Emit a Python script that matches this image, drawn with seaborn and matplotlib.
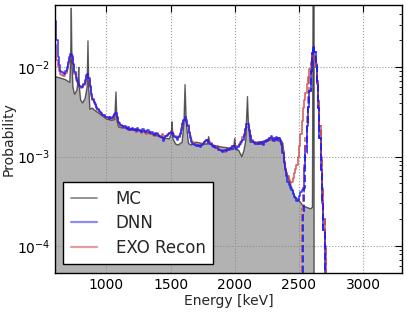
import numpy as np
import pandas as pd
import matplotlib
matplotlib.use("Agg")
import matplotlib.pyplot as plt
import seaborn as sns
from matplotlib.lines import Line2D

sns.set_style("white")
plt.rcParams['font.family'] = ['DejaVu Sans']
plt.rcParams['mathtext.default'] = 'regular'

# ---------------- data ----------------
# MC spectrum (polyline), energy in keV, probability in units of 1e-3
mc_energy = [600, 640, 680, 700, 715, 722, 727, 732, 740, 752, 770, 780, 785, 790,
             800, 815, 835, 850, 857, 863, 872, 890, 910, 950, 1000, 1040, 1065,
             1075, 1082, 1095, 1120, 1160, 1200, 1260, 1300, 1350, 1400, 1450, 1490,
             1506, 1512, 1518, 1540, 1560, 1590, 1605, 1613, 1622, 1640, 1660, 1700,
             1750, 1785, 1797, 1808, 1850, 1900, 1950, 1990, 2000, 2008, 2030, 2055,
             2070, 2085, 2093, 2099, 2106, 2120, 2150, 2200, 2250, 2300, 2350, 2375,
             2390, 2430, 2467, 2493, 2510, 2532, 2560, 2590, 2605, 2610, 2618, 2620]
mc_prob_e3 = [7.9, 7.6, 7.3, 7.0, 6.8, 12, 46, 12, 6.0, 5.0, 5.5, 7.0, 10.0, 6.0,
              4.3, 4.0, 4.5, 6.0, 19.8, 6.0, 3.4, 3.5, 3.3, 3.0, 2.65, 2.55, 2.6,
              5.3, 2.6, 2.15, 2.1, 2.1, 2.05, 1.98, 1.9, 1.8, 1.7, 1.62, 1.58,
              1.8, 2.45, 1.6, 1.38, 1.35, 1.45, 2.5, 6.4, 2.5, 1.4, 1.35, 1.45,
              1.4, 1.38, 1.67, 1.38, 1.32, 1.28, 1.25, 1.2, 1.6, 1.2, 1.18, 1.0,
              1.15, 1.5, 2.8, 4.7, 2.5, 1.45, 1.45, 1.45, 1.53, 1.55, 1.62, 1.4,
              0.77, 0.51, 0.36, 0.33, 0.31, 0.28, 0.27, 0.26, 0.27, 80, 80, 0]

# Histogram bin edges (keV), 10 keV bins
bin_edges = list(range(600, 2730, 10))

dnn_e3 = [33, 20, 13, 10.5, 9.2, 8.8, 8.6, 8.5, 9.0, 10.0,
          11.5, 13.2, 14.2, 13.5, 11, 8.8, 7.5, 7.0, 6.5, 6.2,
          6.0, 6.1, 6.5, 7.2, 8.2, 8.4, 7.6, 6.2, 5.0, 4.4,
          4.1, 3.9, 3.6, 3.4, 3.25, 3.15, 3.05, 2.95, 2.9, 2.8,
          2.75, 2.8, 2.65, 2.75, 2.7, 2.85, 3.0, 3.1, 2.8, 2.45,
          2.35, 2.25, 2.2, 2.15, 2.2, 2.1, 2.05, 2.15, 2.0, 2.05,
          2.1, 2.0, 2.05, 1.95, 2.1, 2.0, 1.95, 1.9, 2.05, 1.95,
          1.9, 1.95, 2.0, 1.9, 1.85, 1.9, 1.8, 1.75, 1.85, 1.8,
          1.75, 1.7, 1.65, 1.6, 1.5, 1.6, 1.7, 1.75, 1.8, 1.85,
          1.9, 1.85, 1.7, 1.65, 1.6, 1.55, 1.65, 1.8, 2.0, 2.3,
          2.6, 2.75, 2.6, 2.2, 1.85, 1.6, 1.45, 1.4, 1.35, 1.35,
          1.3, 1.35, 1.3, 1.28, 1.35, 1.4, 1.45, 1.5, 1.55, 1.45,
          1.4, 1.38, 1.32, 1.28, 1.3, 1.25, 1.25, 1.2, 1.18, 1.15,
          1.13, 1.17, 1.2, 1.16, 1.22, 1.2, 1.25, 1.22, 1.3, 1.33,
          1.25, 1.22, 1.28, 1.35, 1.4, 1.45, 1.55, 1.75, 2.05, 2.3,
          2.3, 2.0, 1.7, 1.5, 1.45, 1.42, 1.38, 1.4, 1.42, 1.38,
          1.45, 1.4, 1.35, 1.45, 1.52, 1.48, 1.55, 1.6, 1.68, 1.6,
          1.5, 1.62, 1.65, 1.55, 1.6, 1.5, 1.4, 1.1, 0.85, 0.7,
          0.6, 0.52, 0.48, 0.45, 0.42, 0.38, 0.35, 0.34, 0.32, 0.33,
          0.36, 0.4, 0.42, 0.45, 0.75, 1.3, 2.2, 3.6, 5.5, 9.0,
          14.5, 17.0, 15.0, 11.0, 6.5, 3.5, 1.6, 0.7, 0.3, 0.15,
          0, 0]

exo_e3 = [18, 12, 10, 9.2, 8.5, 8.2, 8.0, 8.1, 8.6, 9.5,
          11.0, 12.5, 13.0, 12.8, 10.5, 8.5, 7.2, 6.8, 6.3, 6.1,
          5.9, 6.0, 6.3, 6.9, 7.8, 8.0, 7.3, 6.0, 4.8, 4.3,
          4.0, 3.8, 3.5, 3.3, 3.15, 3.05, 3.0, 2.9, 2.85, 2.75,
          2.7, 2.72, 2.62, 2.68, 2.65, 2.75, 2.9, 3.0, 2.7, 2.4,
          2.3, 2.2, 2.2, 2.15, 2.1, 2.12, 2.05, 2.0, 2.02, 1.98,
          2.05, 2.0, 1.95, 1.9, 2.0, 1.95, 1.92, 1.85, 1.95, 1.9,
          1.85, 1.8, 1.9, 1.88, 1.8, 1.78, 1.75, 1.7, 1.78, 1.82,
          1.7, 1.68, 1.72, 1.78, 1.62, 1.58, 1.68, 1.72, 1.8, 1.85,
          1.92, 1.88, 1.78, 1.7, 1.65, 1.62, 1.72, 1.85, 2.1, 2.35,
          2.5, 2.6, 2.45, 2.25, 1.9, 1.7, 1.52, 1.45, 1.4, 1.38,
          1.35, 1.32, 1.3, 1.33, 1.38, 1.42, 1.45, 1.48, 1.52, 1.48,
          1.45, 1.42, 1.36, 1.32, 1.3, 1.28, 1.3, 1.25, 1.2, 1.18,
          1.2, 1.15, 1.13, 1.18, 1.25, 1.22, 1.25, 1.27, 1.3, 1.28,
          1.3, 1.32, 1.33, 1.38, 1.45, 1.5, 1.65, 1.8, 2.05, 2.15,
          2.15, 1.95, 1.75, 1.55, 1.45, 1.45, 1.4, 1.38, 1.45, 1.43,
          1.38, 1.42, 1.45, 1.5, 1.5, 1.48, 1.58, 1.62, 1.55, 1.52,
          1.6, 1.62, 1.55, 1.52, 1.5, 1.45, 1.35, 1.15, 0.9, 0.75,
          0.65, 0.6, 0.55, 0.5, 0.52, 0.58, 0.65, 0.72, 0.8, 1.0,
          1.3, 1.8, 2.5, 3.5, 4.3, 5.2, 6.5, 7.8, 9.5, 11.5,
          13.0, 13.5, 12.0, 10.0, 7.0, 4.2, 2.2, 1.0, 0.45, 0.2,
          0.1, 0]

# peak-window histograms (dashed), 10 keV bins starting at the given edge
dnn_peak_start = 2530
dnn_peak_e3 = [0.22, 0.45, 1.1, 2.2, 3.6, 5.5, 9.0, 14.5, 17.0, 15.0, 11.0,
               6.5, 3.5, 1.6, 0.7, 0.3, 0.15]
exo_peak_start = 2520
exo_peak_e3 = [0.26, 0.4, 0.8, 1.6, 3.0, 5.0, 8.0, 11.0, 13.0, 13.5, 12.0,
               10.0, 7.0, 4.2, 2.2, 1.0, 0.45, 0.2, 0.1]

labels = ["MC", "DNN", "EXO Recon"]

# ---------------- helpers ----------------
def step_frame(edges, vals):
    edges = np.asarray(edges, float)
    vals = np.asarray(vals, float) * 1e-3
    x = np.concatenate([edges[:-1], [edges[-1]]])
    y = np.concatenate([vals, [0.0]])
    return pd.DataFrame({"E": x, "P": y})

def window_frame(start, vals, width=10):
    vals = np.asarray(vals, float) * 1e-3
    edges = start + width * np.arange(len(vals) + 1)
    x = np.concatenate([[edges[0]], edges[:-1], [edges[-1]]])
    y = np.concatenate([[0.0], vals, [0.0]])
    return pd.DataFrame({"E": x, "P": y})

# ---------------- figure ----------------
fig = plt.figure(figsize=(4.07, 3.13), dpi=100)
ax = fig.add_axes([0.1351, 0.1288, 0.8518, 0.8553])
ax.set_yscale("log", nonpositive="clip")
ax.set_xlim(600, 3300)
ax.set_ylim(5e-5, 0.05)

mc_df = pd.DataFrame({"E": mc_energy, "P": np.asarray(mc_prob_e3) * 1e-3})
ax.fill_between(mc_df["E"], mc_df["P"], 1e-9, color="gray", alpha=0.6, lw=0)
sns.lineplot(data=mc_df, x="E", y="P", ax=ax, color="black", alpha=0.6, lw=1.0,
             estimator=None, sort=False, errorbar=None)

blue = "#1a1aff"
red = "#c83c3c"
sns.lineplot(data=step_frame(bin_edges, exo_e3), x="E", y="P", ax=ax, color=red,
             alpha=0.8, lw=1.2, drawstyle="steps-post", estimator=None, sort=False,
             errorbar=None)
sns.lineplot(data=step_frame(bin_edges, dnn_e3), x="E", y="P", ax=ax, color=blue,
             alpha=0.85, lw=1.2, drawstyle="steps-post", estimator=None, sort=False,
             errorbar=None)
sns.lineplot(data=window_frame(exo_peak_start, exo_peak_e3), x="E", y="P", ax=ax,
             color=red, alpha=0.7, lw=1.4, ls="--", drawstyle="steps-post",
             estimator=None, sort=False, errorbar=None)
sns.lineplot(data=window_frame(dnn_peak_start, dnn_peak_e3), x="E", y="P", ax=ax,
             color=blue, alpha=0.85, lw=1.4, ls="--", drawstyle="steps-post",
             estimator=None, sort=False, errorbar=None)

ax.set_xticks([1000, 1500, 2000, 2500, 3000])
ax.grid(True, which="major", color="#9a9a9a", ls=":", lw=0.8)
ax.tick_params(which="both", direction="in", top=True, right=True, labelsize=10,
               colors="black")
ax.tick_params(which="major", length=5, width=0.8)
ax.tick_params(which="minor", length=2.5, width=0.6)
for s in ax.spines.values():
    s.set_color("black")
    s.set_linewidth(1.0)

ax.set_xlabel("Energy [keV]", fontsize=10, labelpad=2)
ax.set_ylabel("Probability", fontsize=10, labelpad=1)

handles = [Line2D([], [], color="gray", lw=1.2),
           Line2D([], [], color=blue, alpha=0.5, lw=1.6),
           Line2D([], [], color=red, alpha=0.5, lw=1.6)]
leg = ax.legend(handles, labels, loc="lower left", fontsize=12, frameon=True,
                fancybox=False, framealpha=1, edgecolor="black", borderaxespad=0.5,
                handlelength=1.6, handletextpad=1.1, labelspacing=0.4,
                borderpad=0.45)
leg.get_frame().set_linewidth(1.0)

fig.savefig("out.png", dpi=100)
